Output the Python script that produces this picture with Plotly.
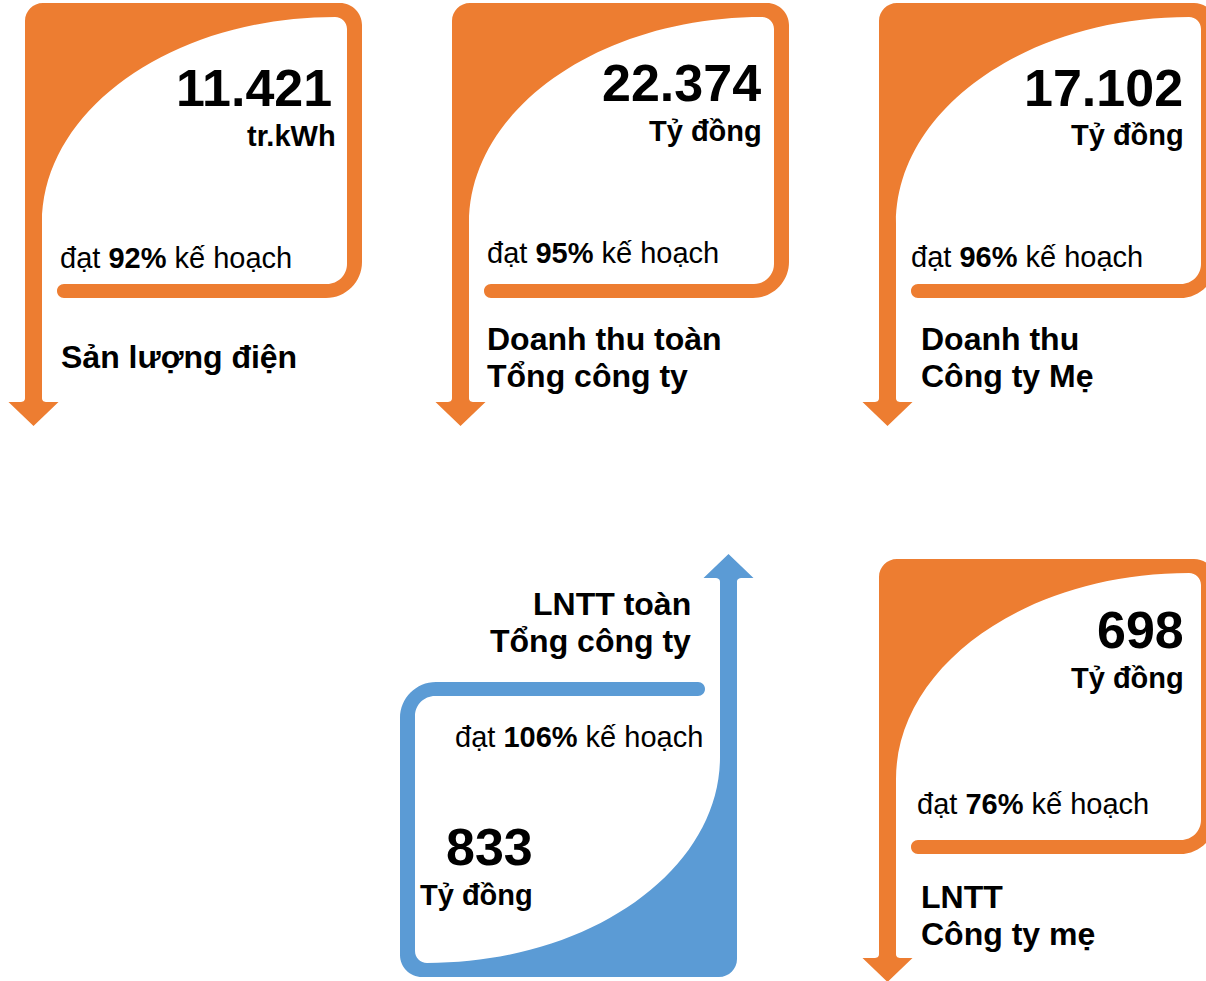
import plotly.graph_objects as go

# ---------------- data ----------------
values = ["11.421", "22.374", "17.102", "833", "698"]
units = ["tr.kWh", "Tỷ đồng", "Tỷ đồng", "Tỷ đồng", "Tỷ đồng"]
percents = [92, 95, 96, 106, 76]
titles = [
    ["Sản lượng điện"],
    ["Doanh thu toàn", "Tổng công ty"],
    ["Doanh thu", "Công ty Mẹ"],
    ["LNTT toàn", "Tổng công ty"],
    ["LNTT", "Công ty mẹ"],
]
directions = ["down", "down", "down", "up", "down"]

# ---------------- layout / style ----------------
ORANGE = "#ED7D31"
BLUE = "#5B9BD5"
FONT = "Liberation Sans, Arial, sans-serif"
FIG_W, FIG_H = 1206, 981

# card anchor (origin of local frame) and orientation sign
cards = [
    dict(X0=25, Y0=3, sign=1),
    dict(X0=452, Y0=3, sign=1),
    dict(X0=879, Y0=3, sign=1),
    dict(X0=737, Y0=977, sign=-1),
    dict(X0=879, Y0=559, sign=1),
]
# text placements: (x, baseline y, anchor)
text_pos = [
    dict(val=(333, 106, "right"), unit=(337, 146, "right"), pct=(59, 268, "left"), title=(60, 368, "left")),
    dict(val=(762, 101, "right"), unit=(763, 141, "right"), pct=(486, 263, "left"), title=(486, 350, "left")),
    dict(val=(1184, 106, "right"), unit=(1185, 145, "right"), pct=(910, 267, "left"), title=(920, 350, "left")),
    dict(val=(445, 865, "left"), unit=(419, 905, "left"), pct=(704, 747, "right"), title=(692, 615, "right")),
    dict(val=(1185, 648, "right"), unit=(1185, 688, "right"), pct=(916, 814, "left"), title=(920, 908, "left")),
]
SZ_VAL, SZ_UNIT, SZ_PCT, SZ_TITLE = 52, 29, 29, 32
TITLE_LS = 37

K = 0.5523  # bezier quarter-circle constant


def card_path(X0, Y0, sign):
    W, H = 337, 295
    ts, t, tr = 17, 14, 15
    Ls, Ah, Aw = 399, 24, 25
    r_tl, r_tr, r_br, r_ibr, r_itr = 18, 22, 36, 20, 12
    barL = 32
    cyL = 220
    cx = W - tr - r_itr
    rx, ry = cx - ts, cyL - t
    c = t / 2
    xc = ts / 2

    segs = [
        ("M", [(0, Ls)]),
        ("L", [(0, r_tl)]),
        ("C", [(0, r_tl * (1 - K)), (r_tl * (1 - K), 0), (r_tl, 0)]),
        ("L", [(W - r_tr, 0)]),
        ("C", [(W - r_tr + K * r_tr, 0), (W, r_tr - K * r_tr), (W, r_tr)]),
        ("L", [(W, H - r_br)]),
        ("C", [(W, H - r_br + K * r_br), (W - r_br + K * r_br, H), (W - r_br, H)]),
        ("L", [(barL + c, H)]),
        ("C", [(barL + c - K * c, H), (barL, H - c + K * c), (barL, H - c)]),
        ("C", [(barL, H - c - K * c), (barL + c - K * c, H - t), (barL + c, H - t)]),
        ("L", [(W - tr - r_ibr, H - t)]),
        ("C", [(W - tr - r_ibr + K * r_ibr, H - t), (W - tr, H - t - r_ibr + K * r_ibr), (W - tr, H - t - r_ibr)]),
        ("L", [(W - tr, t + r_itr)]),
        ("C", [(W - tr, t + r_itr - K * r_itr), (W - tr - r_itr + K * r_itr, t), (cx, t)]),
        ("C", [(cx - K * rx, t), (ts, cyL - K * ry), (ts, cyL)]),
        ("L", [(ts, Ls - 4)]),
        ("C", [(ts, Ls - 1), (ts + 2, Ls), (ts + 5, Ls)]),
        ("L", [(xc + Aw, Ls)]),
        ("L", [(xc, Ls + Ah)]),
        ("L", [(xc - Aw, Ls)]),
        ("L", [(-5, Ls)]),
        ("C", [(-2, Ls), (0, Ls - 1), (0, Ls - 4)]),
    ]
    out = []
    for cmd, pts in segs:
        coords = " ".join(f"{X0 + sign * px:.2f},{Y0 + sign * py:.2f}" for px, py in pts)
        out.append(f"{cmd}{coords}")
    return " ".join(out) + " Z"


fig = go.Figure()
fig.add_trace(go.Scatter(x=[], y=[], showlegend=False))

for i, cd in enumerate(cards):
    color = BLUE if directions[i] == "up" else ORANGE
    fig.add_shape(type="path", path=card_path(cd["X0"], cd["Y0"], cd["sign"]),
                  xref="x", yref="y", fillcolor=color, line=dict(width=0), layer="below")


def add_text(x, baseline, anchor, text, size):
    fig.add_annotation(x=x, y=baseline - 0.35 * size, xref="x", yref="y", text=text,
                       showarrow=False, xanchor=anchor, yanchor="middle",
                       font=dict(family=FONT, size=size, color="black"), borderpad=0)


for i in range(len(values)):
    tp = text_pos[i]
    add_text(*tp["val"], f"<b>{values[i]}</b>", SZ_VAL)
    add_text(*tp["unit"], f"<b>{units[i]}</b>", SZ_UNIT)
    add_text(*tp["pct"], f"đạt <b>{percents[i]}%</b> kế hoạch", SZ_PCT)
    x, b, a = tp["title"]
    for j, line in enumerate(titles[i]):
        add_text(x, b + j * TITLE_LS, a, f"<b>{line}</b>", SZ_TITLE)

fig.update_layout(
    width=FIG_W, height=FIG_H,
    margin=dict(l=0, r=0, t=0, b=0),
    paper_bgcolor="white", plot_bgcolor="white",
    xaxis=dict(range=[0, FIG_W], visible=False, fixedrange=True),
    yaxis=dict(range=[FIG_H, 0], visible=False, fixedrange=True),
    showlegend=False,
)

fig.write_html(
    "out.html",
    config=dict(displayModeBar=False),
    post_script="document.body.style.margin='0';document.body.style.overflow='hidden';",
)
